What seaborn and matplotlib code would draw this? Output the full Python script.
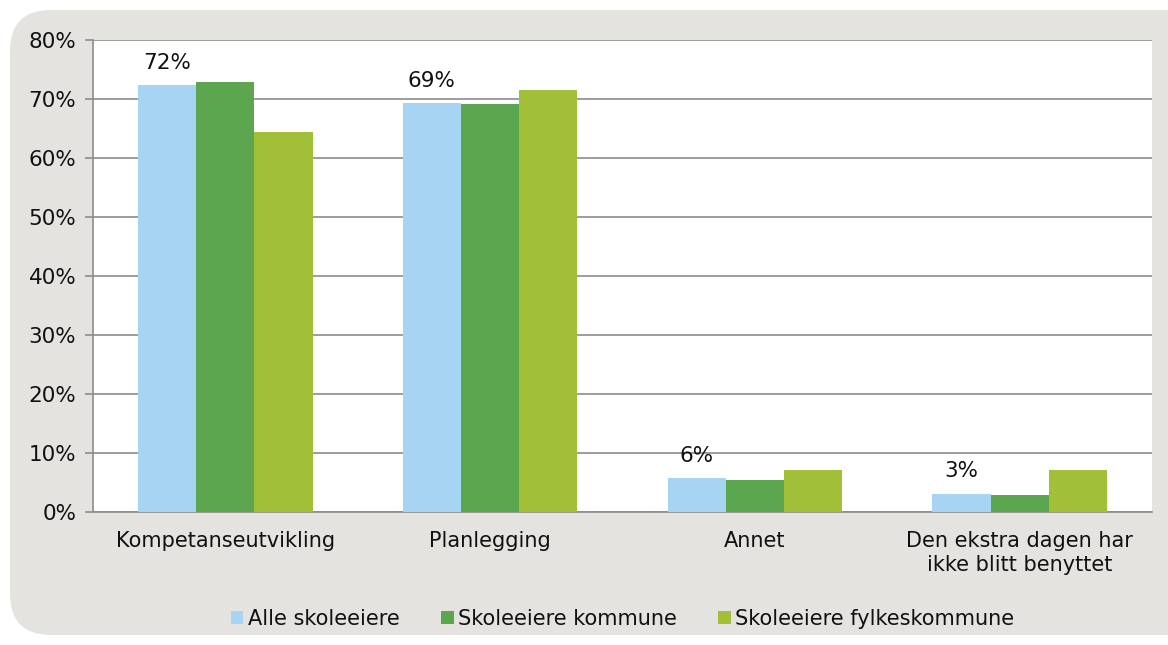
import pandas as pd
import seaborn as sns
import matplotlib.pyplot as plt
from matplotlib.patches import FancyBboxPatch

categories = ['Kompetanseutvikling', 'Planlegging', 'Annet',
              'Den ekstra dagen har\nikke blitt benyttet']
series = ['Alle skoleeiere', 'Skoleeiere kommune', 'Skoleeiere fylkeskommune']
alle = [72.3, 69.3, 5.7, 3.1]
kommune = [72.8, 69.2, 5.5, 2.8]
fylke = [64.4, 71.5, 7.2, 7.2]
labels = ['72%', '69%', '6%', '3%']
colors = ['#a8d4f3', '#5ca650', '#a1bf37']

df = pd.DataFrame({
    'Kategori': categories * 3,
    'Serie': [series[0]] * 4 + [series[1]] * 4 + [series[2]] * 4,
    'Andel': alle + kommune + fylke,
})

sns.set_style('white')
plt.rcParams['font.family'] = ['DejaVu Sans']

fig = plt.figure(figsize=(11.68, 6.45), dpi=100)
fig.patch.set_facecolor('white')
bg = FancyBboxPatch((10 / 1168, 10 / 645), 1.2, 625 / 645,
                    boxstyle='round,pad=0,rounding_size=0.035',
                    transform=fig.transFigure, facecolor='#e4e3df',
                    edgecolor='none', zorder=-10, mutation_aspect=1168 / 645)
fig.patches.append(bg)

ax = fig.add_axes([93 / 1168, 1 - 512 / 645, 1059 / 1168, 472 / 645])
ax.set_facecolor('white')

sns.barplot(data=df, x='Kategori', y='Andel', hue='Serie', palette=colors,
            width=0.66, gap=0, saturation=1, ax=ax, legend=True,
            edgecolor='none', linewidth=0, zorder=3)

# only the first series carries value labels
ax.bar_label(ax.containers[0], labels=labels, padding=9, fontsize=15.5, color='#111111')

ax.set_ylim(0, 80)
ax.set_xlim(-0.5, 3.5)
ax.set_yticks(range(0, 81, 10))
ax.set_yticklabels([f'{v}%' for v in range(0, 81, 10)], fontsize=15.5, color='#111111')
ax.yaxis.grid(True, color='#8c8c8c', linewidth=1.2, zorder=0)
ax.set_axisbelow(True)
ax.set_xlabel('')
ax.set_ylabel('')

ax.set_xticks(range(4))
ax.set_xticklabels(categories, fontsize=15, color='#111111')
ax.tick_params(axis='x', length=0, pad=14)
ax.set_xticks([0.5, 1.5, 2.5, 3.5], minor=True)
ax.tick_params(axis='x', which='minor', length=6, color='#8c8c8c', width=1.2)
ax.tick_params(axis='y', length=6, color='#8c8c8c', width=1.2, left=True, pad=6)

for side in ['top', 'right']:
    ax.spines[side].set_visible(False)
for side in ['left', 'bottom']:
    ax.spines[side].set_color('#8c8c8c')
    ax.spines[side].set_linewidth(1.2)

leg = ax.legend(loc='upper center', bbox_to_anchor=(0.5, -0.165), ncol=3, frameon=False,
                fontsize=15, handlelength=0.6, handleheight=0.6, handletextpad=0.2,
                columnspacing=2.0)
for t in leg.get_texts():
    t.set_color('#111111')

fig.savefig('out.png', dpi=100)
